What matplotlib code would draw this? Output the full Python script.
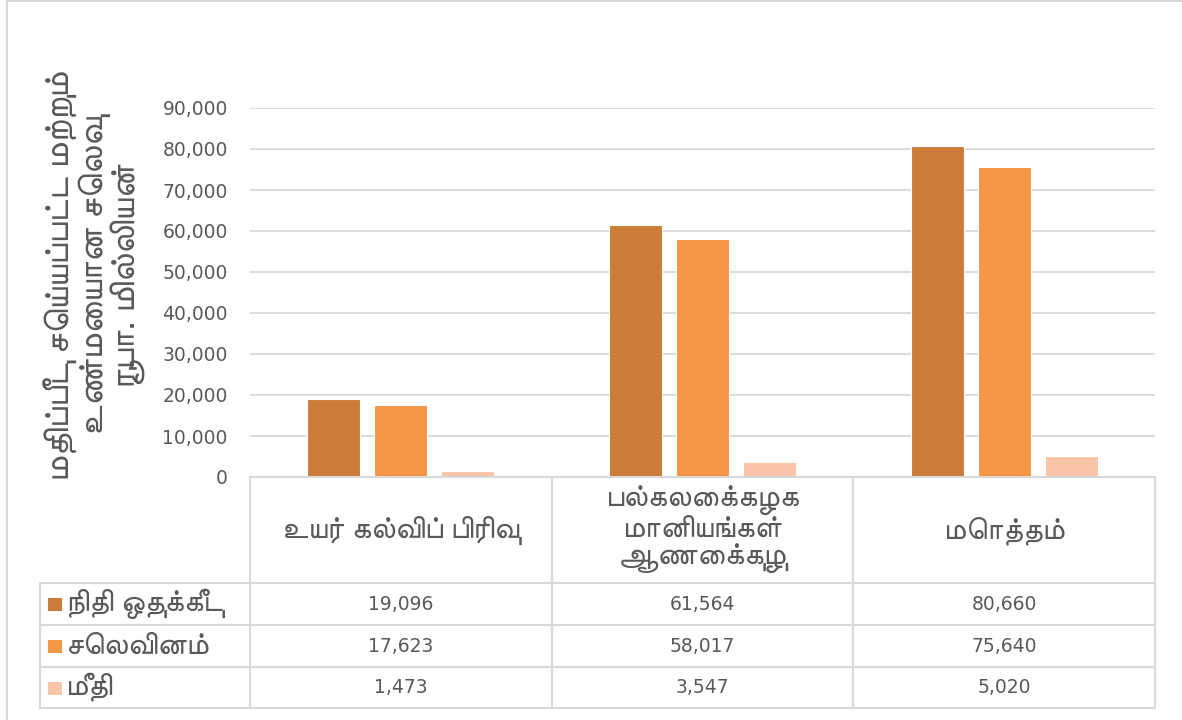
import matplotlib
matplotlib.use("Agg")
import matplotlib.pyplot as plt
from matplotlib import font_manager
from matplotlib.ft2font import FT2Font
from matplotlib.transforms import blended_transform_factory
from matplotlib.patches import Rectangle
from matplotlib.lines import Line2D

CATEGORIES = ["உயர் கல்விப் பிரிவு", "பல்கலைக்கழக\nமானியங்கள்\nஆணைக்குழு", "மொத்தம்"]
SERIES = ["நிதி ஒதுக்கீடு", "செலவினம்", "மீதி"]
ALLOCATION = [19096, 61564, 80660]
EXPENDITURE = [17623, 58017, 75640]
BALANCE = [1473, 3547, 5020]
COLORS = ["#CD7B38", "#F79646", "#FAC4A8"]
YLABEL = "மதிப்பீடு செய்யப்பட்ட மற்றும்\nஉண்மையான செலவு\nரூபா. மில்லியன்"
YTICKS = [0, 10000, 20000, 30000, 40000, 50000, 60000, 70000, 80000, 90000]


def find_tamil_font():
    # any installed font with Tamil glyphs, proportional ones first
    found = []
    for path in sorted(font_manager.findSystemFonts()):
        try:
            if 0x0B95 in FT2Font(path).get_charmap():
                found.append(path)
        except Exception:
            pass
    if not found:
        return None
    found.sort(key=lambda p: ("mono" in p.lower(), "bold" in p.lower(), "sans" not in p.lower()))
    font_manager.fontManager.addfont(found[0])
    return font_manager.FontProperties(fname=found[0]).get_name()


tamil = find_tamil_font()
TAMIL_FAM = ([tamil] if tamil else []) + ["DejaVu Sans"]
NUM_FAM = ["DejaVu Sans"]
plt.rcParams["font.family"] = TAMIL_FAM

TXT = "#595959"
GRID = "#D9D9D9"
W, H = 1182, 720

fig = plt.figure(figsize=(W / 100, H / 100), dpi=100)
ax = fig.add_axes([250 / W, 1 - 477 / H, (1155 - 250) / W, (477 - 108) / H])

data = [ALLOCATION, EXPENDITURE, BALANCE]
bw = 0.175
step = 0.222
x = list(range(len(CATEGORIES)))
for i, (vals, col) in enumerate(zip(data, COLORS)):
    ax.bar([xi + (i - 1) * step for xi in x], vals, width=bw, color=col,
           edgecolor="white", linewidth=0.8, zorder=3)

ax.set_xlim(-0.5, len(CATEGORIES) - 0.5)
ax.set_ylim(0, 90000)
ax.set_yticks(YTICKS)
ax.set_yticklabels([f"{v:,}" for v in YTICKS], fontsize=13.5, color=TXT, family=NUM_FAM)
ax.tick_params(axis="y", length=0, pad=16)
ax.set_xticks([])
ax.grid(axis="y", color=GRID, linewidth=1.3, zorder=0)
for s in ax.spines.values():
    s.set_visible(False)

fig.text(95 / W, 1 - 276 / H, YLABEL, rotation=90, ha="center", va="center",
         fontsize=25.5, color=TXT, linespacing=0.95, multialignment="center",
         family=TAMIL_FAM)

# data table under the axis
tr = blended_transform_factory(ax.transData, fig.transFigure)
fy = lambda py: 1 - py / H
fx = lambda px: px / W
rows_y = [477, 583, 625, 667, 708]
lk = dict(color=GRID, linewidth=1.5, clip_on=False)

fig.add_artist(Line2D([-0.5, 2.5], [fy(477)] * 2, transform=tr, **lk))
for py in rows_y[1:]:
    fig.add_artist(Line2D([fx(40), fx(1155)], [fy(py)] * 2, **lk))
fig.add_artist(Line2D([fx(40)] * 2, [fy(583), fy(708)], **lk))
for xb in [-0.5, 0.5, 1.5, 2.5]:
    fig.add_artist(Line2D([xb, xb], [fy(477), fy(708)], transform=tr, **lk))

for xi, cat in zip(x, CATEGORIES):
    fig.text(xi, fy(530), cat, transform=tr, ha="center", va="center",
             fontsize=22, color=TXT, linespacing=0.92, family=TAMIL_FAM)

for r, (name, vals, col) in enumerate(zip(SERIES, data, COLORS)):
    ymid = (rows_y[r + 1] + rows_y[r + 2]) / 2
    fig.add_artist(Rectangle((fx(48), fy(ymid + 7)), 14 / W, 13 / H,
                             facecolor=col, edgecolor="none"))
    fig.text(fx(66), fy(ymid), name, ha="left", va="center", fontsize=22,
             color=TXT, family=TAMIL_FAM)
    for xi, v in zip(x, vals):
        fig.text(xi, fy(ymid), f"{v:,}", transform=tr, ha="center", va="center",
                 fontsize=13.5, color=TXT, family=NUM_FAM)

# chart border
fig.add_artist(Rectangle((fx(7), fy(730)), fx(1200), fy(1) - fy(730),
                         facecolor="none", edgecolor=GRID, linewidth=1.5, clip_on=False))

fig.savefig("out.png", dpi=100)
